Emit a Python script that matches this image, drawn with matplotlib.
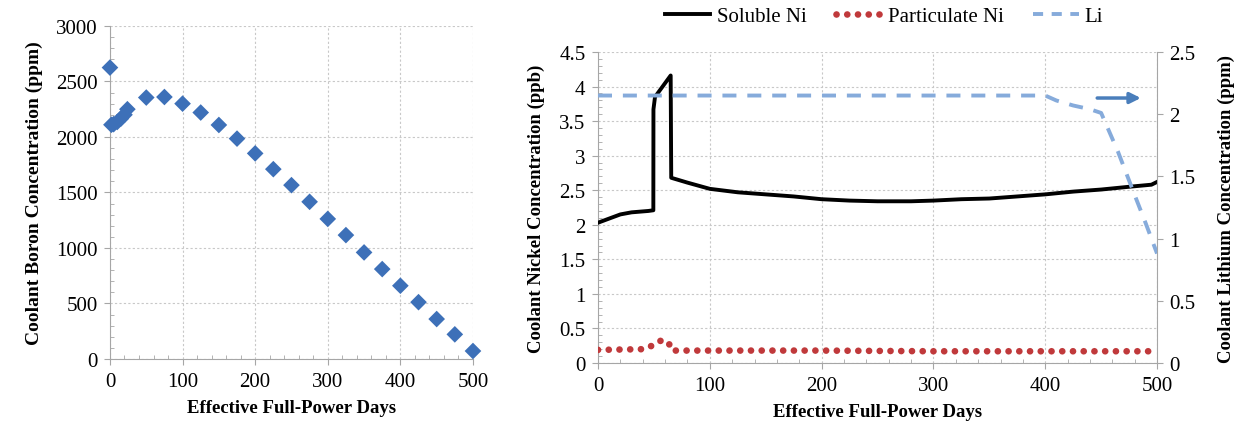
import numpy as np
import matplotlib.pyplot as plt
from matplotlib.lines import Line2D
from matplotlib.ticker import MultipleLocator, FormatStrFormatter

plt.rcParams['font.family'] = ['Liberation Serif', 'DejaVu Serif']

# boron letdown curve (left panel)
boron_days = [0, 2, 5, 10, 15, 20, 24, 50, 75, 100, 125, 150, 175, 200, 225,
              250, 275, 300, 325, 350, 375, 400, 425, 450, 475, 500]
boron_ppm = [2625, 2110, 2115, 2135, 2165, 2200, 2250, 2355, 2360, 2300, 2220,
             2108, 1985, 1852, 1710, 1566, 1416, 1262, 1116, 960, 810, 660,
             512, 360, 222, 72]

# nickel and lithium (right panel)
sol_days = [0, 10, 20, 30, 45, 49.5, 49.6, 51, 65, 65.5, 80, 100, 125, 150,
            175, 200, 225, 250, 280, 300, 325, 350, 375, 400, 425, 450, 475,
            495, 500]
sol_ni = [2.03, 2.09, 2.15, 2.18, 2.20, 2.21, 3.67, 3.85, 4.16, 2.68, 2.61,
          2.52, 2.47, 2.44, 2.41, 2.37, 2.35, 2.34, 2.34, 2.35, 2.37, 2.38,
          2.41, 2.44, 2.48, 2.51, 2.55, 2.58, 2.62]

part_days = [0, 40, 46, 50, 57, 63, 66, 100, 200, 300, 400, 500]
part_ni = [0.19, 0.20, 0.23, 0.27, 0.33, 0.30, 0.18, 0.18, 0.18, 0.17, 0.17,
           0.17]

li_days = [0, 400, 410, 425, 440, 450, 465, 480, 490, 500]
li_ppm = [2.15, 2.15, 2.11, 2.07, 2.04, 2.01, 1.70, 1.35, 1.12, 0.88]

BLUE = '#3d70b8'
RED = '#c0393b'
LIBLUE = '#86abdb'
SPINE = '#a6a6a6'
GRID = '#c8c8c8'
DOTS = (0, (0.01, 1.6))
DASH = (0, (3.6, 2.8))


def style_axes(ax):
    for side in ['top', 'right']:
        ax.spines[side].set_visible(False)
    for side in ['left', 'bottom']:
        ax.spines[side].set_color(SPINE)
    ax.grid(True, which='major', color=GRID, linestyle=(0, (2, 2)), lw=0.8)
    ax.tick_params(which='major', direction='out', length=4, color=SPINE,
                   labelsize=15, pad=5)
    ax.tick_params(which='minor', direction='in', length=3, color=SPINE)
    ax.xaxis.set_minor_locator(MultipleLocator(20))
    ax.set_axisbelow(True)


fig = plt.figure(figsize=(12.44, 4.27), dpi=100)

# left panel
ax1 = fig.add_axes([0.0884, 0.1569, 0.2918, 0.780])
ax1.scatter(boron_days, boron_ppm, marker='D', s=72, color=BLUE,
            edgecolors='none', zorder=3, clip_on=False)
ax1.set_xlim(0, 500)
ax1.set_ylim(0, 3000)
ax1.xaxis.set_major_locator(MultipleLocator(100))
ax1.yaxis.set_major_locator(MultipleLocator(500))
ax1.yaxis.set_minor_locator(MultipleLocator(100))
style_axes(ax1)
ax1.set_xlabel('Effective Full-Power Days', fontsize=13.5, fontweight='bold',
               labelpad=6)
ax1.set_ylabel('Coolant Boron Concentration (ppm)', fontsize=14,
               fontweight='bold', labelpad=9)

# right panel
ax = fig.add_axes([0.4807, 0.1475, 0.4494, 0.7284])
ax.plot(sol_days, sol_ni, color='black', lw=2.8, zorder=3)
ax.plot(part_days, part_ni, color=RED, lw=4.8, linestyle=DOTS,
        dash_capstyle='round', zorder=3)
ax.set_xlim(0, 500)
ax.set_ylim(0, 4.5)
ax.xaxis.set_major_locator(MultipleLocator(100))
ax.yaxis.set_major_locator(MultipleLocator(0.5))
ax.yaxis.set_minor_locator(MultipleLocator(0.1))
ax.yaxis.set_major_formatter(FormatStrFormatter('%g'))
style_axes(ax)
ax.set_xlabel('Effective Full-Power Days', fontsize=13.5, fontweight='bold',
              labelpad=6)
ax.set_ylabel('Coolant Nickel Concentration (ppb)', fontsize=13.5,
              fontweight='bold', labelpad=10)

ax2 = ax.twinx()
ax2.plot(li_days, li_ppm, color=LIBLUE, lw=2.8, linestyle=DASH, zorder=3)
ax2.set_ylim(0, 2.5)
ax2.yaxis.set_major_locator(MultipleLocator(0.5))
ax2.yaxis.set_major_formatter(FormatStrFormatter('%g'))
for side in ['top', 'left', 'bottom']:
    ax2.spines[side].set_visible(False)
ax2.spines['right'].set_color(SPINE)
ax2.tick_params(direction='out', length=4, color=SPINE, labelsize=15, pad=5)
ax2.set_ylabel('Coolant Lithium Concentration (ppm)', fontsize=13.5,
               fontweight='bold', labelpad=16)
ax2.annotate('', xy=(488, 2.13), xytext=(444, 2.13),
             arrowprops=dict(arrowstyle='-|>', color='#4a7ebb', lw=2.5,
                             mutation_scale=16))

handles = [
    Line2D([], [], color='black', lw=2.8),
    Line2D([], [], color=RED, lw=4.8, linestyle=DOTS, dash_capstyle='round'),
    Line2D([], [], color=LIBLUE, lw=2.8, linestyle=(0, (2.6, 2.2))),
]
fig.legend(handles, ['Soluble Ni', 'Particulate Ni', 'Li'],
           loc='center', bbox_to_anchor=(884 / 1244, 1 - 17 / 427), ncol=3,
           frameon=False, fontsize=15, handlelength=2.2, columnspacing=1.4,
           handletextpad=0.3)

fig.savefig('out.png', dpi=100)
